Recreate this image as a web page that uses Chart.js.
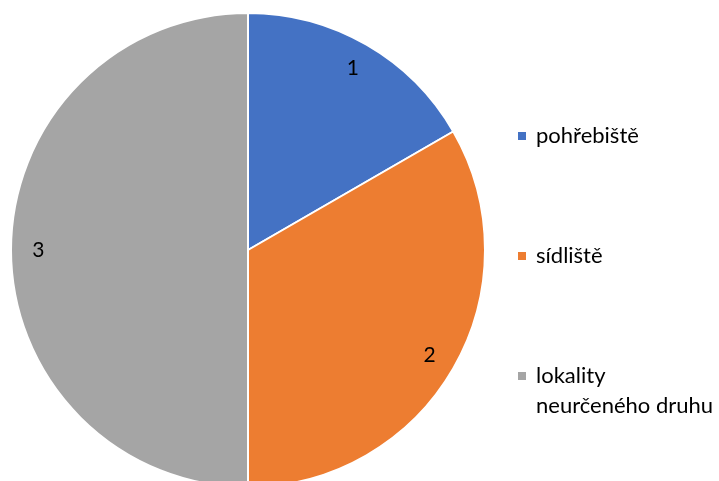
<!DOCTYPE html>
<html>
<head>
<meta charset="utf-8">
<script src="https://cdn.jsdelivr.net/npm/chart.js@4"></script>
<style>
  html, body { margin: 0; padding: 0; background: #fff; }
  #wrap { position: relative; width: 719px; height: 481px; overflow: hidden; }
  #pie { position: absolute; left: 0; top: 0; }
  #legend { position: absolute; left: 518px; top: 0; font-family: Lato, "Open Sans", sans-serif; font-size: 22px; color: #000; }
  .item { position: absolute; left: 0; white-space: nowrap; line-height: 30px; }
  .item .box { position: absolute; left: 0; top: 12px; width: 8px; height: 8px; }
  .item .txt { margin-left: 18px; display: block; }
</style>
</head>
<body>
<div id="wrap">
  <canvas id="pie" width="719" height="494"></canvas>
  <div id="legend"></div>
</div>
<script>
const categories = ['pohřebiště', 'sídliště', 'lokality neurčeného druhu'];
const legendLines = [['pohřebiště'], ['sídliště'], ['lokality', 'neurčeného druhu']];
const values = [1, 2, 3];
const colors = ['#4472c4', '#ed7d31', '#a5a5a5'];
const legendTops = [120, 240, 360];

// data labels drawn inside each slice
const sliceLabels = {
  id: 'sliceLabels',
  afterDatasetsDraw(chart) {
    const ctx = chart.ctx;
    const meta = chart.getDatasetMeta(0);
    ctx.save();
    ctx.font = '21px Lato, "Open Sans", sans-serif';
    ctx.fillStyle = '#000';
    ctx.textAlign = 'center';
    ctx.textBaseline = 'middle';
    meta.data.forEach((arc, i) => {
      const mid = (arc.startAngle + arc.endAngle) / 2;
      const r = arc.outerRadius * 0.885;
      ctx.fillText(String(values[i]), arc.x + Math.cos(mid) * r, arc.y + Math.sin(mid) * r);
    });
    ctx.restore();
  }
};

new Chart(document.getElementById('pie'), {
  type: 'pie',
  data: {
    labels: categories,
    datasets: [{
      data: values,
      backgroundColor: colors,
      borderColor: '#ffffff',
      borderWidth: 2
    }]
  },
  options: {
    responsive: false,
    animation: false,
    layout: { padding: { left: 10, right: 233, top: 12, bottom: 6 } },
    plugins: {
      legend: { display: false },
      tooltip: { enabled: false }
    }
  },
  plugins: [sliceLabels]
});

// legend on the right
const legendEl = document.getElementById('legend');
categories.forEach((c, i) => {
  const item = document.createElement('div');
  item.className = 'item';
  item.style.top = legendTops[i] + 'px';
  item.innerHTML = `<span class="box" style="background:${colors[i]}"></span>` +
    legendLines[i].map(l => `<span class="txt">${l}</span>`).join('');
  legendEl.appendChild(item);
});
</script>
</body>
</html>
